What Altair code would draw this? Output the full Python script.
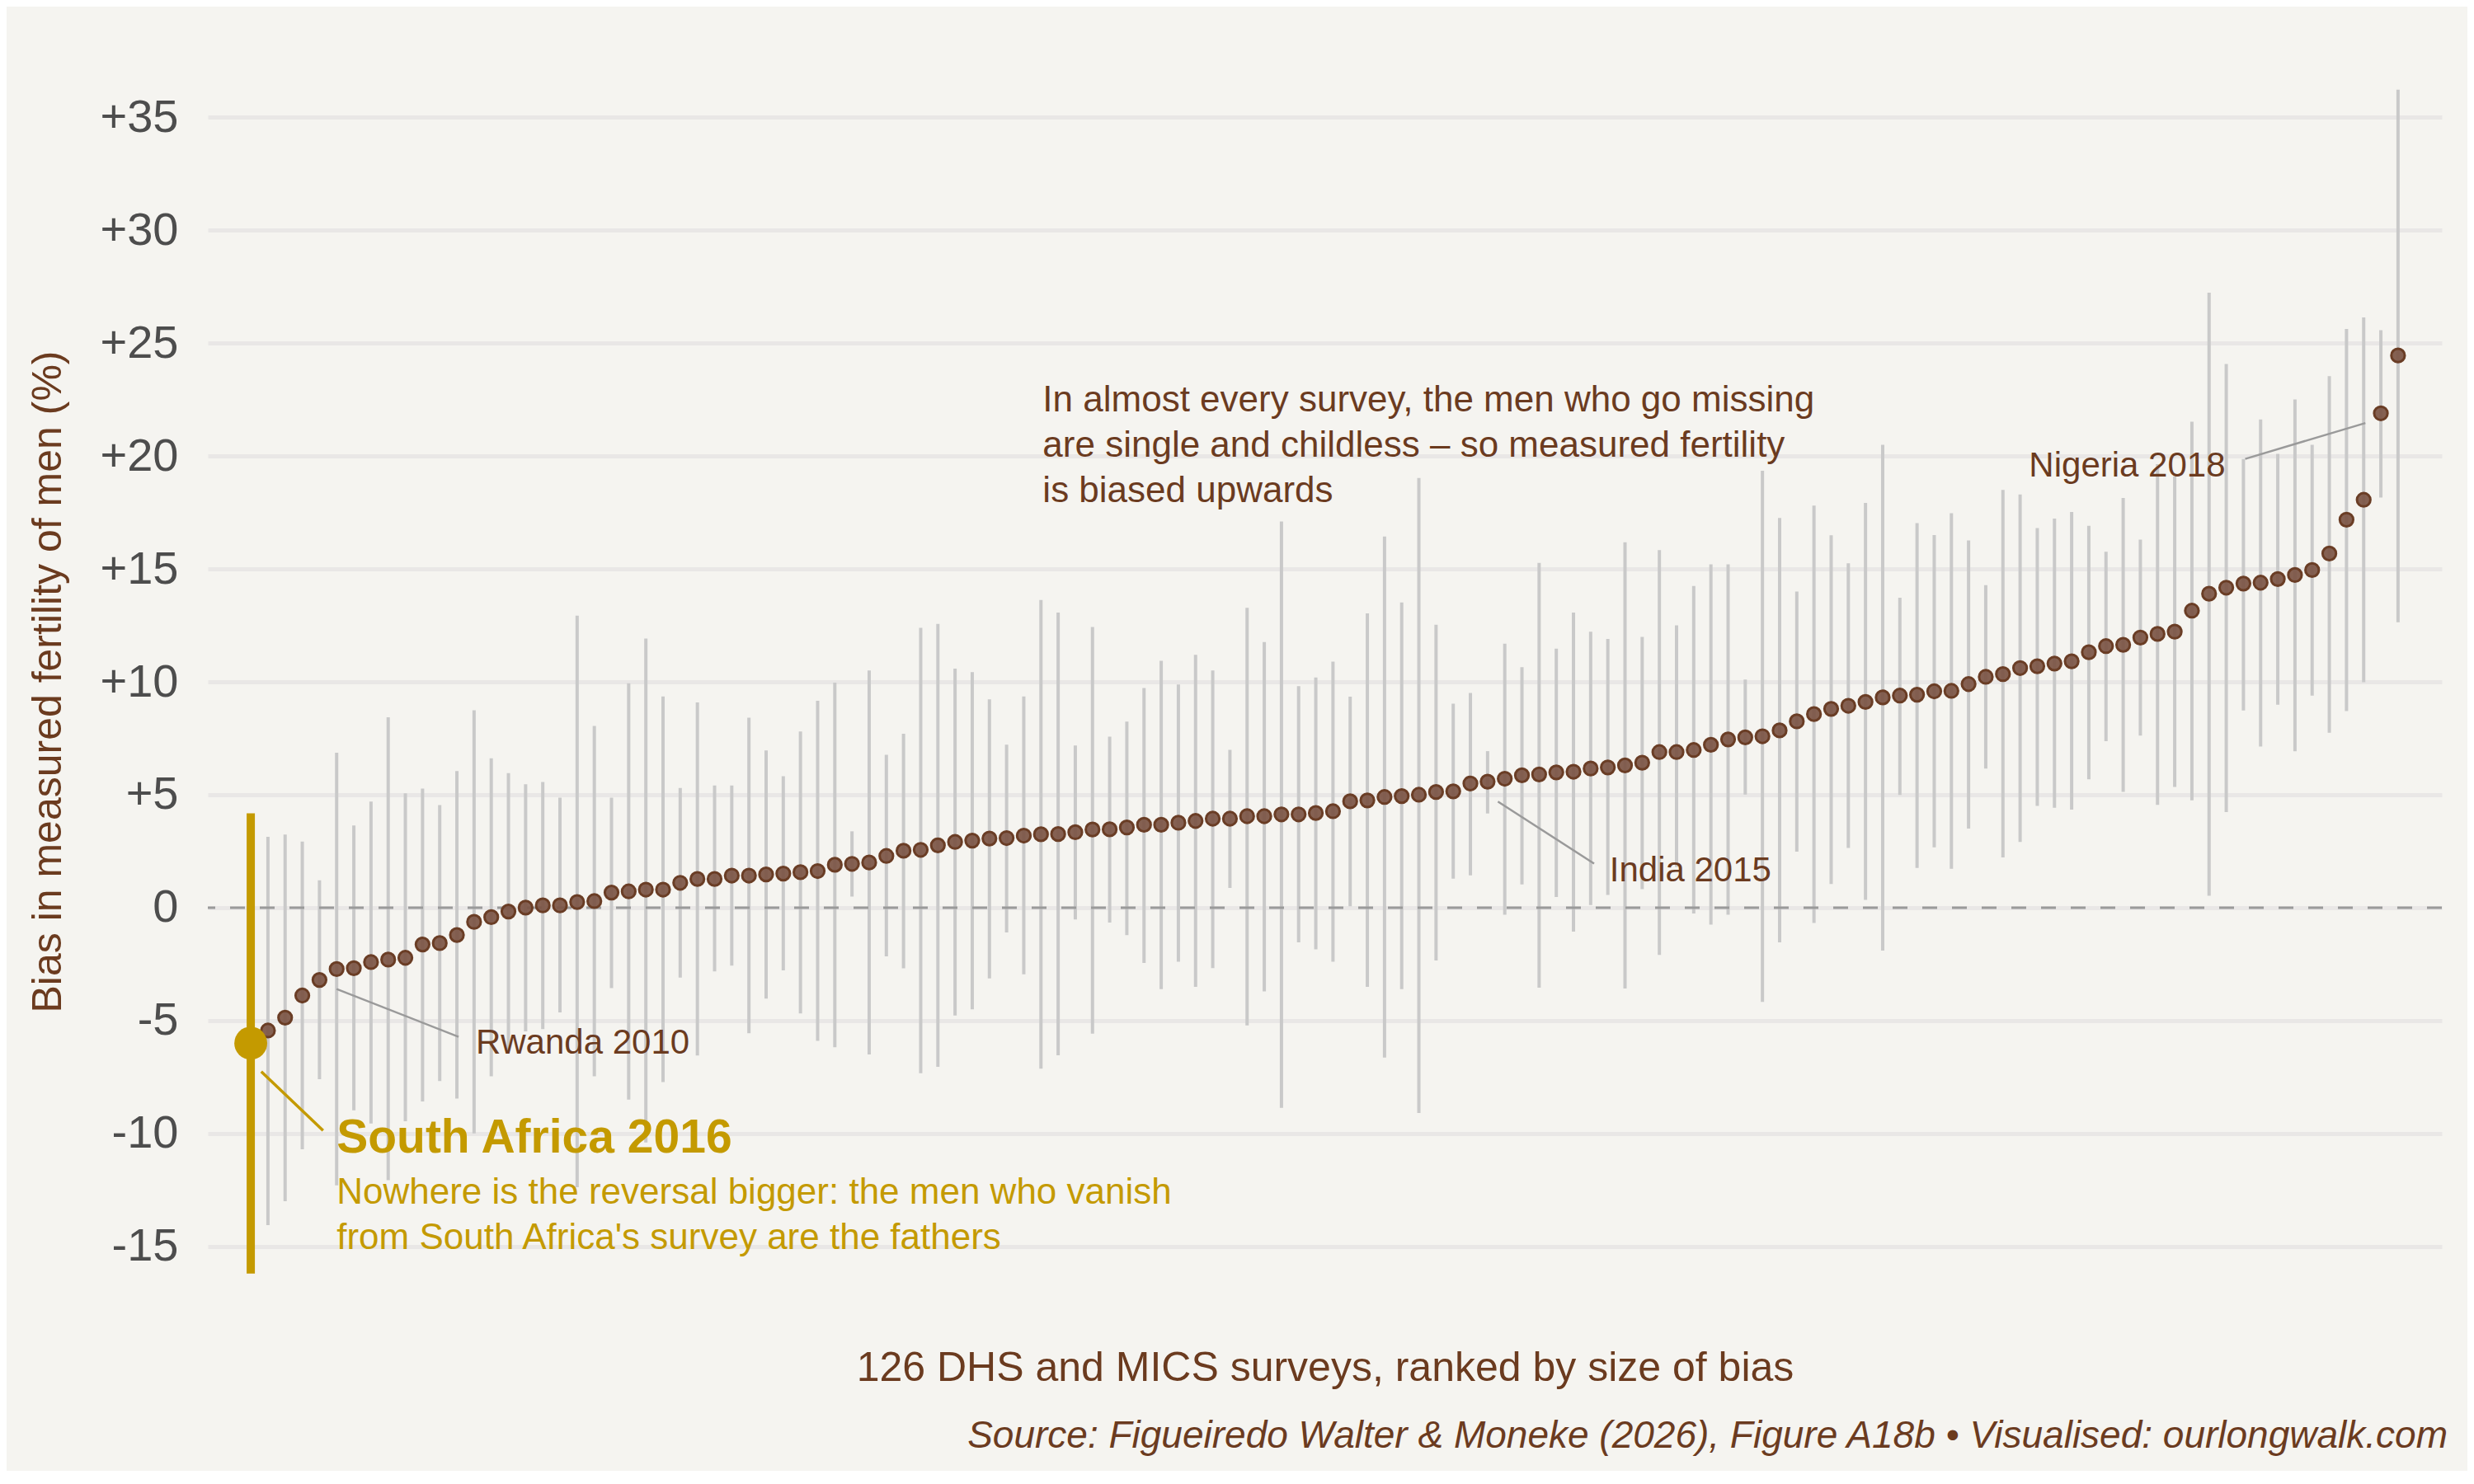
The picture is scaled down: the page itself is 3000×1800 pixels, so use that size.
import altair as alt
import pandas as pd

# ---- data ----
values = [-6.0, -5.44, -4.87, -3.89, -3.20, -2.72, -2.68, -2.41, -2.30, -2.22,
          -1.63, -1.57, -1.21, -0.63, -0.42, -0.17, 0.0, 0.10, 0.10, 0.25,
          0.29, 0.67, 0.72, 0.80, 0.80, 1.10, 1.27, 1.27, 1.42, 1.42,
          1.47, 1.51, 1.57, 1.62, 1.90, 1.94, 2.00, 2.29, 2.52, 2.56,
          2.76, 2.91, 2.97, 3.06, 3.08, 3.19, 3.25, 3.26, 3.34, 3.46,
          3.47, 3.55, 3.67, 3.67, 3.76, 3.84, 3.94, 3.94, 4.05, 4.05,
          4.13, 4.13, 4.19, 4.27, 4.71, 4.75, 4.90, 4.94, 5.00, 5.12,
          5.15, 5.50, 5.58, 5.71, 5.86, 5.90, 5.99, 6.02, 6.16, 6.21,
          6.30, 6.42, 6.89, 6.89, 6.98, 7.21, 7.45, 7.54, 7.59, 7.85,
          8.25, 8.57, 8.80, 8.94, 9.11, 9.31, 9.39, 9.43, 9.58, 9.60,
          9.90, 10.22, 10.34, 10.61, 10.69, 10.81, 10.91, 11.31, 11.58, 11.64,
          11.96, 12.12, 12.22, 13.15, 13.90, 14.17, 14.35, 14.39, 14.55, 14.73,
          14.95, 15.68, 17.18, 18.06, 21.89, 24.45]

highs = [4.18, 3.14, 3.24, 2.93, 1.21, 6.86, 3.64, 4.70, 8.43, 5.06,
         5.27, 4.54, 6.05, 8.74, 6.61, 5.96, 5.46, 5.56, 4.87, 12.93,
         8.05, 4.87, 9.94, 11.92, 9.35, 5.30, 9.09, 5.41, 5.41, 8.41,
         6.96, 5.82, 7.80, 9.16, 9.96, 3.38, 10.50, 6.77, 7.70, 12.39,
         12.56, 10.58, 10.43, 9.22, 7.22, 9.35, 13.62, 13.07, 7.18, 12.43,
         7.57, 8.24, 9.73, 10.93, 9.88, 11.20, 10.50, 6.99, 13.28, 11.76,
         17.10, 9.81, 10.19, 10.89, 9.34, 13.03, 16.43, 13.51, 19.03, 12.53,
         9.03, 9.51, 6.93, 11.69, 10.65, 15.27, 11.47, 13.07, 12.22, 11.90,
         16.18, 11.99, 15.83, 12.50, 14.24, 15.20, 15.20, 10.10, 19.35, 17.26,
         14.00, 17.80, 16.49, 15.25, 17.92, 20.50, 13.72, 17.03, 16.50, 17.47,
         16.26, 14.28, 18.50, 18.30, 16.81, 17.23, 17.52, 16.91, 15.76, 18.14,
         16.30, 19.64, 19.10, 21.52, 27.23, 24.07, 19.87, 21.62, 20.09, 22.50,
         20.50, 23.53, 25.62, 26.14, 25.57, 36.22]

lows = [-16.2, -14.06, -13.0, -10.7, -7.6, -12.3, -8.97, -9.56, -12.07, -9.46,
        -8.58, -7.68, -8.45, -10.0, -7.47, -6.3, -5.48, -5.38, -4.64, -12.38,
        -7.47, -3.56, -8.5, -10.4, -7.72, -3.10, -6.55, -2.82, -2.57, -5.56,
        -4.03, -2.78, -4.68, -5.90, -6.18, 0.49, -6.50, -2.16, -2.69, -7.33,
        -7.05, -4.78, -4.50, -3.13, -1.10, -2.95, -7.13, -6.54, -0.52, -5.58,
        -0.66, -1.22, -2.45, -3.61, -2.39, -3.51, -2.68, 0.87, -5.21, -3.71,
        -8.86, -1.54, -1.85, -2.39, 0.06, -3.51, -6.64, -3.61, -9.09, -2.34,
        1.28, 1.43, 4.17, -0.31, 1.03, -3.54, 0.47, -1.06, 0.12, 0.56,
        -3.58, 0.82, -2.09, 1.80, -0.26, -0.75, -0.31, 5.01, -4.17, -1.54,
        2.48, -0.68, 1.05, 2.64, 0.34, -1.90, 4.99, 1.76, 2.67, 1.72,
        3.50, 6.16, 2.22, 2.91, 4.51, 4.42, 4.34, 5.68, 7.37, 5.13,
        7.62, 4.55, 5.35, 4.75, 0.53, 4.23, 8.73, 7.13, 8.99, 6.92,
        9.39, 7.75, 8.70, 9.98, 18.16, 12.64]

highlight_rank = 0  # South Africa 2016
y_ticks = [-15, -10, -5, 0, 5, 10, 15, 20, 25, 30, 35]

label_names = ["Rwanda 2010", "India 2015"]
label_x = [13.1, 79.1]
label_y = [-6.0, 1.65]
nigeria_label = "Nigeria 2018"

note_lines = ["In almost every survey, the men who go missing",
              "are single and childless \u2013 so measured fertility",
              "is biased upwards"]
note_y = [22.46, 20.45, 18.42]

sa_title = "South Africa 2016"
sa_lines = ["Nowhere is the reversal bigger: the men who vanish",
            "from South Africa's survey are the fathers"]
sa_line_y = [-12.65, -14.65]

x_title = "126 DHS and MICS surveys, ranked by size of bias"
y_title = "Bias in measured fertility of men (%)"
source = "Source: Figueiredo Walter & Moneke (2026), Figure A18b \u2022 Visualised: ourlongwalk.com"

# ---- frames ----
n = len(values)
df = pd.DataFrame({"rank": list(range(n)), "value": values, "low": lows, "high": highs})
others = df[df["rank"] != highlight_rank]
sa = df[df["rank"] == highlight_rank]

W, H = 2709, 1534
FONT = "Liberation Sans"
BROWN = "#6b3b1f"
GOLD = "#c49a00"
BG = "#f5f4f0"

xs = alt.Scale(domain=[-2.5, 127.55], nice=False, zero=False)
ys = alt.Scale(domain=[-18, 38], nice=False, zero=False)

yaxis = alt.Axis(values=y_ticks, title=None, domain=False, ticks=False,
                 labelFont=FONT, labelFontSize=56, labelColor="#4d4d4d",
                 labelPadding=36, grid=True, gridColor="#e9e7e6", gridWidth=5,
                 labelExpr="datum.value > 0 ? '+' + datum.value : '' + datum.value")

X = lambda f: alt.X(f, type="quantitative", scale=xs, axis=None)
Y = lambda f: alt.Y(f, type="quantitative", scale=ys, axis=yaxis)

whiskers = alt.Chart(others).mark_rule(color="#c9c9c9", strokeWidth=4).encode(
    x=X("rank"), y=Y("low"), y2="high:Q")

zero = alt.Chart(pd.DataFrame({"v": [0]})).mark_rule(
    color="#9a9a9a", strokeWidth=3, strokeDash=[18, 18]).encode(y=Y("v"))

dots = alt.Chart(others).mark_point(
    filled=True, size=265, fill="#7b5444", fillOpacity=0.92,
    stroke="#6a3d25", strokeWidth=3, opacity=1).encode(x=X("rank"), y=Y("value"))

sa_whisk = alt.Chart(sa).mark_rule(color=GOLD, strokeWidth=10).encode(
    x=X("rank"), y=Y("low"), y2="high:Q")
sa_dot = alt.Chart(sa).mark_point(filled=True, size=1590, color=GOLD, opacity=1).encode(
    x=X("rank"), y=Y("value"))

def seg(x1, y1, x2, y2, color, w):
    d = pd.DataFrame({"x": [x1], "y": [y1], "x2": [x2], "y2": [y2]})
    return alt.Chart(d).mark_rule(color=color, strokeWidth=w).encode(
        x=X("x"), y=Y("y"), x2="x2:Q", y2="y2:Q")

connectors = [
    seg(5.0, -3.6, 12.1, -5.72, "#9a9a9a", 2.5),
    seg(72.6, 4.7, 78.2, 1.95, "#9a9a9a", 2.5),
    seg(116.1, 19.87, 123.1, 21.46, "#9a9a9a", 2.5),
    seg(0.61, -7.26, 4.21, -9.87, GOLD, 3.5),
]

def texts(xv, yv, tv, align="left", size=42, color=BROWN, weight="normal", style="normal"):
    d = pd.DataFrame({"x": xv, "y": yv, "t": tv})
    return alt.Chart(d).mark_text(align=align, baseline="middle", font=FONT,
                                  fontSize=size, color=color, fontWeight=weight,
                                  fontStyle=style).encode(x=X("x"), y=Y("y"), text="t:N")

lab = texts(label_x, label_y, label_names)
nig = texts([114.95], [19.57], [nigeria_label], align="right")
note = texts([46.1] * 3, note_y, note_lines, size=44)
sat = texts([5.0], [-10.24], [sa_title], size=57, color=GOLD, weight="bold")
sal = texts([5.0, 5.0], sa_line_y, sa_lines, size=44, color=GOLD)

def ptext(px, py, t, align="center", size=48, style="normal", angle=0):
    d = pd.DataFrame({"t": [t]})
    return alt.Chart(d).mark_text(align=align, baseline="middle", font=FONT, fontSize=size,
                                  color=BROWN, fontStyle=style, angle=angle).encode(
        x=alt.value(px), y=alt.value(py), text="t:N")

xt = ptext(1355, 1600, x_title, size=50)
src = ptext(2716, 1682, source, align="right", size=46, style="italic")
yt = ptext(-193, H / 2, y_title, size=50, angle=270)

chart = alt.layer(whiskers, zero, dots, sa_whisk, sa_dot, *connectors,
                  lab, nig, note, sat, sal, xt, src, yt).properties(
    width=W, height=H,
    autosize=alt.AutoSizeParams(type="none"),
    padding={"left": 244, "top": 52, "right": 31, "bottom": 190},
    background=BG,
).configure_view(stroke=None)

chart.save("out.html", embed_options={"renderer": "svg", "actions": False})
